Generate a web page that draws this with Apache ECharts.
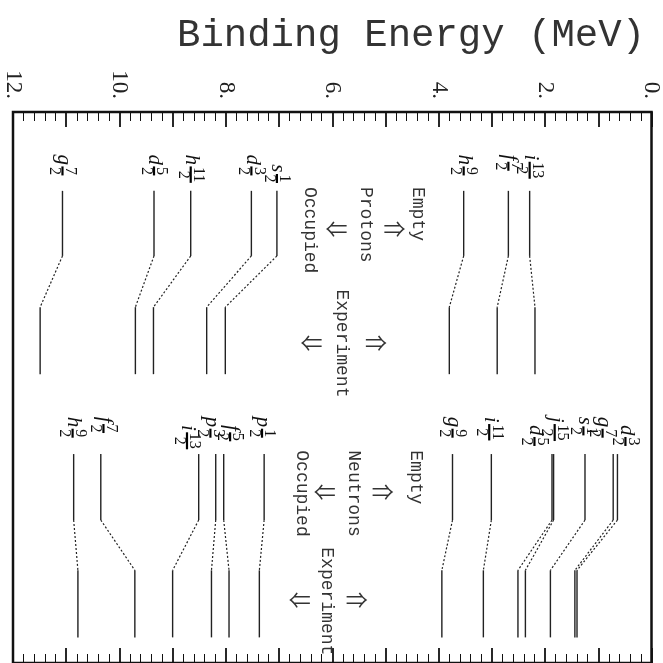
<!DOCTYPE html>
<html><head><meta charset="utf-8">
<script src="https://cdn.jsdelivr.net/npm/echarts@6/dist/echarts.min.js"></script>
<style>html,body{margin:0;padding:0;background:#fff}#c{width:663px;height:663px}</style>
</head><body><div id="c"></div>
<script>
// ---------------- data ----------------
const tickValues = [0, 2, 4, 6, 8, 10, 12];
const tickLabels = ['0.', '2.', '4.', '6.', '8.', '10.', '12.'];

const protonLevels = ['g7/2', 'd5/2', 'h11/2', 'd3/2', 's1/2', 'h9/2', 'f7/2', 'i13/2'];
const protonTheory = [11.07, 9.35, 8.66, 7.52, 7.04, 3.53, 2.69, 2.29];
const protonExperiment = [11.49, 9.70, 9.36, 8.36, 8.01, 3.80, 2.90, 2.19];

const neutronLevels = ['h9/2', 'f7/2', 'i13/2', 'p3/2', 'f5/2', 'p1/2', 'g9/2', 'i11/2', 'j15/2', 'd5/2', 's1/2', 'g7/2', 'd3/2'];
const neutronTheory = [10.86, 10.35, 8.51, 8.19, 8.04, 7.28, 3.74, 3.01, 1.87, 1.84, 1.25, 0.72, 0.64];
const neutronExperiment = [10.78, 9.71, 9.00, 8.27, 7.94, 7.37, 3.94, 3.16, 2.51, 2.37, 1.90, 1.44, 1.40];

const protonNotes = ['Empty', '\u21D2', 'Protons', '\u21D0', 'Occupied', 'Experiment', '\u21D2', '\u21D0'];
const neutronNotes = ['Empty', '\u21D2', 'Neutrons', '\u21D0', 'Occupied', 'Experiment', '\u21D2', '\u21D0'];

// ---------------- layout (data units: MeV across, diagram units 0-100 down) ----------------
const layout = {
  protonSpans: [14.31, 26.12, 35.42, 47.58],
  neutronSpans: [62.08, 74.06, 83.18, 95.35],
  protonLabelShift: [0, 0, 0, 0, 0, 0, 0, 0],
  protonLabelPos: [7.7, 7.7, 7.7, 7.7, 9.5, 7.7, 7.7, 7.7],
  neutronLabelShift: [0.02, -0.05, 0.22, 0.10, -0.12, 0.04, 0.0, 0.04, -0.05, 0.36, 0.03, 0.20, -0.15],
  neutronLabelPos: [55.3, 55.3, 56.8, 55.3, 56.8, 55.3, 55.3, 55.3, 55.3, 56.8, 55.3, 55.3, 56.8],
  protonNoteE: [4.39, 4.83, 5.37, 5.92, 6.42, 5.82, 5.18, 6.39],
  protonNoteY: [13.6, 21.2, 13.6, 21.2, 13.6, 32.2, 41.8, 41.8],
  neutronNoteE: [4.43, 5.05, 5.60, 6.14, 6.58, 6.10, 5.54, 6.61],
  neutronNoteY: [61.4, 68.9, 61.4, 68.9, 61.4, 79.0, 88.5, 88.5]
};

const mctx = document.createElement('canvas').getContext('2d');
function tw(text, font) { mctx.font = font; return mctx.measureText(text).width; }

const LINE = '#222';

function levelSeries(theory, exp, spans) {
  return {
    type: 'custom',
    coordinateSystem: 'cartesian2d',
    data: theory.map((t, i) => [t, exp[i]]),
    silent: true,
    renderItem: function (params, api) {
      const t = api.value(0), e = api.value(1);
      const p0 = api.coord([t, spans[0]]), p1 = api.coord([t, spans[1]]);
      const p2 = api.coord([e, spans[2]]), p3 = api.coord([e, spans[3]]);
      return {
        type: 'group', children: [
          { type: 'line', shape: { x1: p0[0], y1: p0[1], x2: p1[0], y2: p1[1] }, style: { stroke: LINE, lineWidth: 1.4 } },
          { type: 'line', shape: { x1: p1[0], y1: p1[1], x2: p2[0], y2: p2[1] }, style: { stroke: LINE, lineWidth: 1.2, lineDash: [2, 2] } },
          { type: 'line', shape: { x1: p2[0], y1: p2[1], x2: p3[0], y2: p3[1] }, style: { stroke: LINE, lineWidth: 1.4 } }
        ]
      };
    }
  };
}

function labelSeries(names, theory, shift, pos) {
  return {
    type: 'custom',
    coordinateSystem: 'cartesian2d',
    data: theory.map((t, i) => [t + shift[i], pos[i]]),
    silent: true,
    renderItem: function (params, api) {
      const p = api.coord([api.value(0), api.value(1)]);
      const m = names[params.dataIndex].match(/^([a-z])(\d+)\/(\d+)$/);
      const letter = m[1], num = m[2], den = m[3];
      const lf = 'italic 21px "Liberation Serif"';
      const ff = '16px "Liberation Serif"';
      const lw = tw(letter, lf);
      const fw = Math.max(tw(num, ff), tw(den, ff)) + 1;
      const fx = lw + 1.5;
      return {
        type: 'group', x: p[0], y: p[1], rotation: -Math.PI / 2,
        children: [
          { type: 'text', x: 0, y: -1, style: { text: letter, fontFamily: 'Liberation Serif', fontStyle: 'italic', fontSize: 21, fill: '#111', align: 'left', verticalAlign: 'middle' } },
          { type: 'text', x: fx + fw / 2, y: -7.5, style: { text: num, fontFamily: 'Liberation Serif', fontSize: 16, fill: '#111', align: 'center', verticalAlign: 'middle' } },
          { type: 'text', x: fx + fw / 2, y: 8, style: { text: den, fontFamily: 'Liberation Serif', fontSize: 16, fill: '#111', align: 'center', verticalAlign: 'middle' } },
          { type: 'line', shape: { x1: fx, y1: 0, x2: fx + fw, y2: 0 }, style: { stroke: '#000', lineWidth: 2.2 } }
        ]
      };
    }
  };
}

function noteSeries(texts, es, ys) {
  return {
    type: 'custom',
    coordinateSystem: 'cartesian2d',
    data: es.map((e, i) => [e, ys[i]]),
    silent: true,
    renderItem: function (params, api) {
      const p = api.coord([api.value(0), api.value(1)]);
      const txt = texts[params.dataIndex];
      const isArrow = txt.length === 1;
      if (isArrow) {
        return { type: 'text', x: p[0], y: p[1], style: { text: txt, fontFamily: '"Noto Sans CJK JP", "DejaVu Sans"', fontSize: 22, fill: '#333', align: 'center', verticalAlign: 'middle' } };
      }
      return { type: 'text', x: p[0], y: p[1], rotation: -Math.PI / 2, style: { text: txt, fontFamily: 'Liberation Mono', fontSize: 18, fill: '#333', align: 'left', verticalAlign: 'middle' } };
    }
  };
}

const axisCommon = {
  type: 'value', min: 0, max: 12, interval: 1, inverse: true,
  axisLine: { show: true, lineStyle: { color: '#111', width: 2 } },
  axisTick: { show: true, inside: true, length: 15, lineStyle: { color: '#111', width: 1.8 } },
  minorTick: { show: true, splitNumber: 5, length: 9, lineStyle: { color: '#111', width: 1 } },
  splitLine: { show: false },
  minorSplitLine: { show: false }
};

const option = {
  animation: false,
  backgroundColor: '#fff',
  title: {
    text: 'Binding Energy (MeV)', left: 172, top: 11,
    textStyle: { fontFamily: 'Liberation Mono', fontSize: 39, fontWeight: 'normal', color: '#333' }
  },
  grid: { left: 13, top: 112, width: 639, height: 559, show: true, borderColor: '#111', borderWidth: 2.5, backgroundColor: 'transparent' },
  xAxis: [
    Object.assign({}, axisCommon, {
      position: 'top',
      axisLabel: {
        show: true, rotate: -90, margin: 13,
        fontFamily: 'Liberation Serif', fontSize: 23, color: '#222',
        formatter: function (v) { const i = tickValues.indexOf(v); return i >= 0 ? tickLabels[i] : ''; }
      }
    }),
    Object.assign({}, axisCommon, { position: 'bottom', axisLabel: { show: false } })
  ],
  yAxis: { type: 'value', min: 0, max: 100, inverse: true, show: false },
  series: [
    levelSeries(protonTheory, protonExperiment, layout.protonSpans),
    levelSeries(neutronTheory, neutronExperiment, layout.neutronSpans),
    labelSeries(protonLevels, protonTheory, layout.protonLabelShift, layout.protonLabelPos),
    labelSeries(neutronLevels, neutronTheory, layout.neutronLabelShift, layout.neutronLabelPos),
    noteSeries(protonNotes, layout.protonNoteE, layout.protonNoteY),
    noteSeries(neutronNotes, layout.neutronNoteE, layout.neutronNoteY)
  ]
};

const chart = echarts.init(document.getElementById('c'), null, { renderer: 'canvas' });
chart.setOption(option);
</script>
</body></html>
